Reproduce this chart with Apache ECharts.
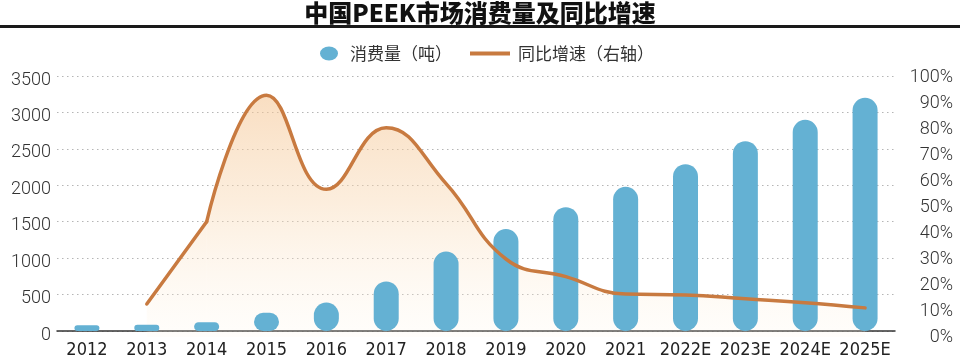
<!DOCTYPE html>
<html>
<head>
<meta charset="utf-8">
<script src="https://cdn.jsdelivr.net/npm/echarts@6/dist/echarts.min.js"></script>
<style>
html,body{margin:0;padding:0;background:#fff;}
#chart{width:960px;height:359px;}
</style>
</head>
<body>
<div id="chart"></div>
<script>
const titleText = '中国PEEK市场消费量及同比增速';
const categories = ['2012','2013','2014','2015','2016','2017','2018','2019','2020','2021','2022E','2023E','2024E','2025E'];
const consumption = [80, 85, 120, 250, 390, 680, 1090, 1400, 1700, 1980, 2290, 2605, 2900, 3200];
const growth = [null, 12.7, 44.3, 93, 56.8, 80.5, 59, 30, 23.2, 16.5, 16.2, 14.7, 13.2, 11.2];
const barName = '消费量（吨）';
const lineName = '同比增速（右轴）';

// first (straight) segment 2013-2014, then smooth curve from 2014 on
const straightPart = growth.map((v, i) => (i <= 2 ? v : null));
const smoothPart = growth.map((v, i) => (i >= 2 ? v : null));

const chart = echarts.init(document.getElementById('chart'), null, {renderer: 'canvas'});
const numFont = 'Roboto, "Liberation Sans", sans-serif';
const catFont = '"Liberation Sans Narrow", "DejaVu Sans Condensed", sans-serif';
const cjk = '"Noto Sans CJK SC", "Noto Sans", sans-serif';
const lineColor = '#c87a40';
const areaGrad = () => new echarts.graphic.LinearGradient(0, 95, 0, 337, [
  {offset: 0, color: 'rgba(245,196,145,0.8)'},
  {offset: 0.45, color: 'rgba(248,214,175,0.6)'},
  {offset: 1, color: 'rgba(255,246,232,0.25)'}
], true);

chart.setOption({
  animation: false,
  backgroundColor: '#fff',
  title: {
    text: titleText, left: 'center', top: 0, padding: [1, 0, 0, 0],
    textStyle: {fontFamily: cjk, fontSize: 24, fontWeight: 900, color: '#111'}
  },
  graphic: [{
    type: 'rect', left: 0, top: 25, shape: {width: 960, height: 3},
    style: {fill: '#1a1a1a'}, silent: true
  }],
  legend: [{
    data: [barName], left: 315, top: 40, itemWidth: 18, itemHeight: 14,
    icon: 'path://M0,7 A9,7 0 1,1 18,7 A9,7 0 1,1 0,7 Z',
    textStyle: {fontFamily: cjk, fontSize: 17, color: '#333', padding: [0, 0, 0, 7]}
  }, {
    data: [lineName], left: 465, top: 40, itemWidth: 40, itemHeight: 4, icon: 'rect',
    textStyle: {fontFamily: cjk, fontSize: 17, color: '#333', padding: [0, 0, 0, 3]}
  }],
  grid: [
    {left: 57, right: 65, top: 76, bottom: 25},
    {left: 57, right: 65, top: 77, bottom: 22},
    {left: 57, right: 65, top: 80, bottom: 24}
  ],
  xAxis: [{
    type: 'category', gridIndex: 0, data: categories, boundaryGap: true,
    axisLine: {lineStyle: {color: '#333', width: 1.5}},
    axisTick: {show: false},
    axisLabel: {fontFamily: catFont, fontSize: 18, color: '#222', margin: 10, interval: 0}
  }, {
    type: 'category', gridIndex: 1, data: categories, boundaryGap: true, show: false
  }, {
    type: 'category', gridIndex: 2, data: categories, boundaryGap: true, show: false
  }],
  yAxis: [{
    type: 'value', gridIndex: 0, min: 0, max: 3500, interval: 500,
    axisLine: {show: false}, axisTick: {show: false}, axisLabel: {show: false},
    splitLine: {show: true, lineStyle: {color: '#b5b5b5', width: 1, type: [1.5, 3.5]}}
  }, {
    type: 'value', gridIndex: 1, position: 'right', min: 0, max: 100, interval: 10,
    axisLine: {show: false}, axisTick: {show: false}, splitLine: {show: false},
    axisLabel: {formatter: '{value}%', fontFamily: numFont, fontSize: 18, fontWeight: 300, color: '#333', margin: 58, align: 'right'}
  }, {
    type: 'value', gridIndex: 2, position: 'left', min: 0, max: 3500, interval: 500,
    axisLine: {show: false}, axisTick: {show: false}, splitLine: {show: false},
    axisLabel: {formatter: (v) => String(v), fontFamily: numFont, fontSize: 18, fontWeight: 300, color: '#333', margin: 6}
  }],
  series: [{
    name: barName, type: 'bar', xAxisIndex: 0, yAxisIndex: 0, data: consumption,
    barWidth: 25, z: 2,
    itemStyle: {color: '#64b1d3', borderRadius: 13}
  }, {
    name: 'area1', type: 'line', xAxisIndex: 1, yAxisIndex: 1, data: straightPart,
    smooth: false, symbol: 'none', z: 1, silent: true,
    lineStyle: {width: 0}, areaStyle: {color: areaGrad()}
  }, {
    name: 'area2', type: 'line', xAxisIndex: 1, yAxisIndex: 1, data: smoothPart,
    smooth: 0.45, symbol: 'none', z: 1, silent: true,
    lineStyle: {width: 0}, areaStyle: {color: areaGrad()}
  }, {
    name: lineName, type: 'line', xAxisIndex: 1, yAxisIndex: 1, data: straightPart,
    smooth: false, symbol: 'none', z: 3,
    itemStyle: {color: lineColor},
    lineStyle: {color: lineColor, width: 3.5, cap: 'round', join: 'round'}
  }, {
    name: lineName, type: 'line', xAxisIndex: 1, yAxisIndex: 1, data: smoothPart,
    smooth: 0.45, symbol: 'none', z: 3,
    itemStyle: {color: lineColor},
    lineStyle: {color: lineColor, width: 3.5, cap: 'round', join: 'round'}
  }]
});
</script>
</body>
</html>
